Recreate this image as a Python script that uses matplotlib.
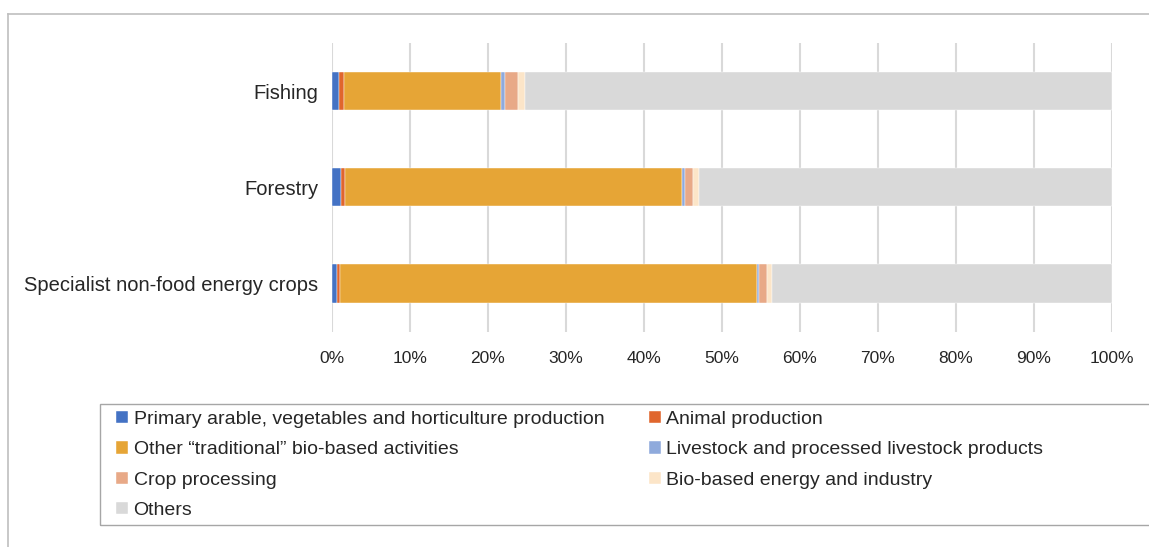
import matplotlib.pyplot as plt
import matplotlib.ticker as ticker
from matplotlib.patches import Rectangle
import numpy as np

plt.rcParams['font.family'] = ['Liberation Sans', 'DejaVu Sans']

categories = ["Specialist non-food energy crops", "Forestry", "Fishing"]

series_names = [
    "Primary arable, vegetables and horticulture production",
    "Animal production",
    "Other \u201ctraditional\u201d bio-based activities",
    "Livestock and processed livestock products",
    "Crop processing",
    "Bio-based energy and industry",
    "Others",
]

# shares in %, order: specialist, forestry, fishing
primary = [0.65, 1.19, 0.90]
animal = [0.35, 0.52, 0.64]
traditional = [53.47, 43.20, 20.13]
livestock = [0.33, 0.40, 0.55]
crop_proc = [1.00, 0.96, 1.63]
bio_energy = [0.60, 0.81, 0.95]
others = [43.60, 52.92, 75.20]

colors = ["#4472C4", "#E0662D", "#E6A536", "#8FAADC", "#E8A987", "#FCE5C8", "#D9D9D9"]

series = [primary, animal, traditional, livestock, crop_proc, bio_energy, others]

W, H = 1149, 547
fig = plt.figure(figsize=(W / 100, H / 100), dpi=100)
ax = fig.add_axes([332 / W, 1 - 331.5 / H, (1111.7 - 332) / W, (331.5 - 43) / H])

y = np.arange(len(categories))
left = np.zeros(len(categories))
handles = []
for vals, c, name in zip(series, colors, series_names):
    h = ax.barh(y, vals, left=left, height=0.4, color=c, label=name,
                edgecolor="white", linewidth=0.3, zorder=3)
    handles.append(h)
    left += np.array(vals)

ax.set_xlim(0, 100)
ax.set_ylim(-0.5, 2.5)
ax.set_xticks(np.arange(0, 101, 10))
ax.xaxis.set_major_formatter(ticker.FuncFormatter(lambda v, p: f"{int(v)}%"))
ax.set_yticks(y)
ax.set_yticklabels(categories)
ax.tick_params(axis="both", length=0, colors="#262626")
ax.tick_params(axis="x", pad=14, labelsize=12.5)
ax.tick_params(axis="y", pad=10, labelsize=14.5)
ax.grid(axis="x", color="#D9D9D9", linewidth=1.5, zorder=0)
for s in ax.spines.values():
    s.set_visible(False)

# outer chart frame (partly cut off in the original)
fig.add_artist(plt.Line2D([8 / W, 1], [1 - 14 / H, 1 - 14 / H], color="#BFBFBF", linewidth=1.2))
fig.add_artist(plt.Line2D([8 / W, 8 / W], [0, 1 - 14 / H], color="#BFBFBF", linewidth=1.2))

# legend box runs off the right edge
fig.add_artist(Rectangle((100 / W, 1 - 525 / H), 1080 / W, 121 / H, transform=fig.transFigure,
                         fill=False, edgecolor="#A6A6A6", linewidth=1.0))

# row-major order like the original (matplotlib fills column by column)
order = [0, 2, 4, 6, 1, 3, 5]
leg = fig.legend([handles[i] for i in order], [series_names[i] for i in order],
                 loc="upper left", bbox_to_anchor=(116 / W, 1 - 411 / H),
                 ncol=2, frameon=False, fontsize=14,
                 handlelength=0.6, handleheight=0.6, handletextpad=0.3,
                 columnspacing=2.3, labelspacing=0.68, borderpad=0,
                 borderaxespad=0)
for t in leg.get_texts():
    t.set_color("#262626")

fig.savefig("out.png", dpi=100)
